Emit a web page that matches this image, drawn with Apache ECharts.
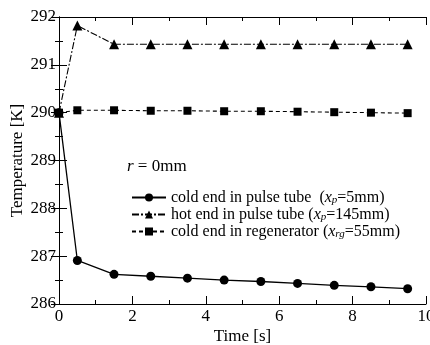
<!DOCTYPE html>
<html>
<head>
<meta charset="utf-8">
<script src="https://cdn.jsdelivr.net/npm/echarts@6/dist/echarts.min.js"></script>
<style>
html, body { margin: 0; padding: 0; background: #fff; }
#main { width: 430px; height: 345px; }
</style>
</head>
<body>
<div id="main"></div>
<script>
var times = [0, 0.5, 1.5, 2.5, 3.5, 4.5, 5.5, 6.5, 7.5, 8.5, 9.5];
var coldPulse = [290, 286.91, 286.62, 286.58, 286.54, 286.50, 286.47, 286.43, 286.39, 286.36, 286.32];
var hotPulse = [290, 291.82, 291.43, 291.43, 291.43, 291.43, 291.43, 291.43, 291.43, 291.43, 291.43];
var coldRegen = [290, 290.05, 290.05, 290.04, 290.04, 290.03, 290.03, 290.02, 290.01, 290.0, 289.99];
var names = ['cold end in pulse tube', 'hot end in pulse tube', 'cold end in regenerator'];
var legendTail = [
  '  ({i|x}{sub|p}=5mm)',
  ' ({i|x}{sub|p}=145mm)',
  ' ({i|x}{sub|rg}=55mm)'
];

function pairs(ys) {
  var out = [];
  for (var i = 0; i < times.length; i++) out.push([times[i], ys[i]]);
  return out;
}

var font = '"Liberation Serif", "Times New Roman", serif';
var chart = echarts.init(document.getElementById('main'));

// every axis: black line, ticks pointing into the plot
function axis(type, pos, min, max, step, showLabel, name, gap) {
  return {
    type: 'value', position: pos, min: min, max: max, interval: step,
    name: name || '', nameLocation: 'middle', nameGap: gap || 0,
    nameMoveOverlap: false,
    nameTextStyle: { color: '#000', fontFamily: font, fontSize: 17 },
    axisLine: { lineStyle: { color: '#000', width: 1 } },
    axisTick: { inside: true, length: 8, lineStyle: { color: '#000' } },
    minorTick: { show: true, splitNumber: 2, length: 4, lineStyle: { color: '#000' } },
    splitLine: { show: false },
    axisLabel: {
      show: showLabel, color: '#000', fontFamily: font, fontSize: 17,
      margin: type == 'x' ? 4 : 3
    }
  };
}

var option = {
  animation: false,
  backgroundColor: '#fff',
  grid: { left: 59, right: 4, top: 17, bottom: 41, outerBoundsMode: 'none' },
  xAxis: [
    axis('x', 'bottom', 0, 10, 2, true, 'Time [s]', 24),
    axis('x', 'top', 0, 10, 2, false)
  ],
  yAxis: [
    axis('y', 'left', 286, 292, 1, true, 'Temperature [K]', 33),
    axis('y', 'right', 286, 292, 1, false)
  ],
  legend: {
    orient: 'vertical', left: 126, top: 184,
    itemWidth: 34, itemHeight: 10, itemGap: 0,
    data: names,
    formatter: function (name) {
      return name + legendTail[names.indexOf(name)];
    },
    textStyle: {
      color: '#000', fontFamily: font, fontSize: 16, lineHeight: 17,
      rich: {
        i: { fontFamily: font, fontSize: 16, fontStyle: 'italic', lineHeight: 17 },
        sub: { fontFamily: font, fontSize: 11, fontStyle: 'italic', lineHeight: 9, verticalAlign: 'bottom' }
      }
    }
  },
  graphic: [{
    type: 'text', left: 127, top: 158,
    style: {
      text: '{i|r} = 0mm', fill: '#000', font: '17px ' + font,
      rich: { i: { fontStyle: 'italic', fontFamily: font, fontSize: 17 } }
    }
  }],
  series: [
    {
      name: names[0], type: 'line', data: pairs(coldPulse),
      symbol: 'circle', symbolSize: 9,
      itemStyle: { color: '#000' },
      lineStyle: { color: '#000', width: 1.3, type: 'solid' }
    },
    {
      name: names[1], type: 'line', data: pairs(hotPulse),
      symbol: 'triangle', symbolSize: 10,
      itemStyle: { color: '#000' },
      lineStyle: { color: '#000', width: 1.1, type: [7, 2, 2, 2] }
    },
    {
      name: names[2], type: 'line', data: pairs(coldRegen),
      symbol: 'rect', symbolSize: 8,
      itemStyle: { color: '#000' },
      lineStyle: { color: '#000', width: 1.1, type: [4, 3] }
    }
  ]
};

chart.setOption(option);
</script>
</body>
</html>
